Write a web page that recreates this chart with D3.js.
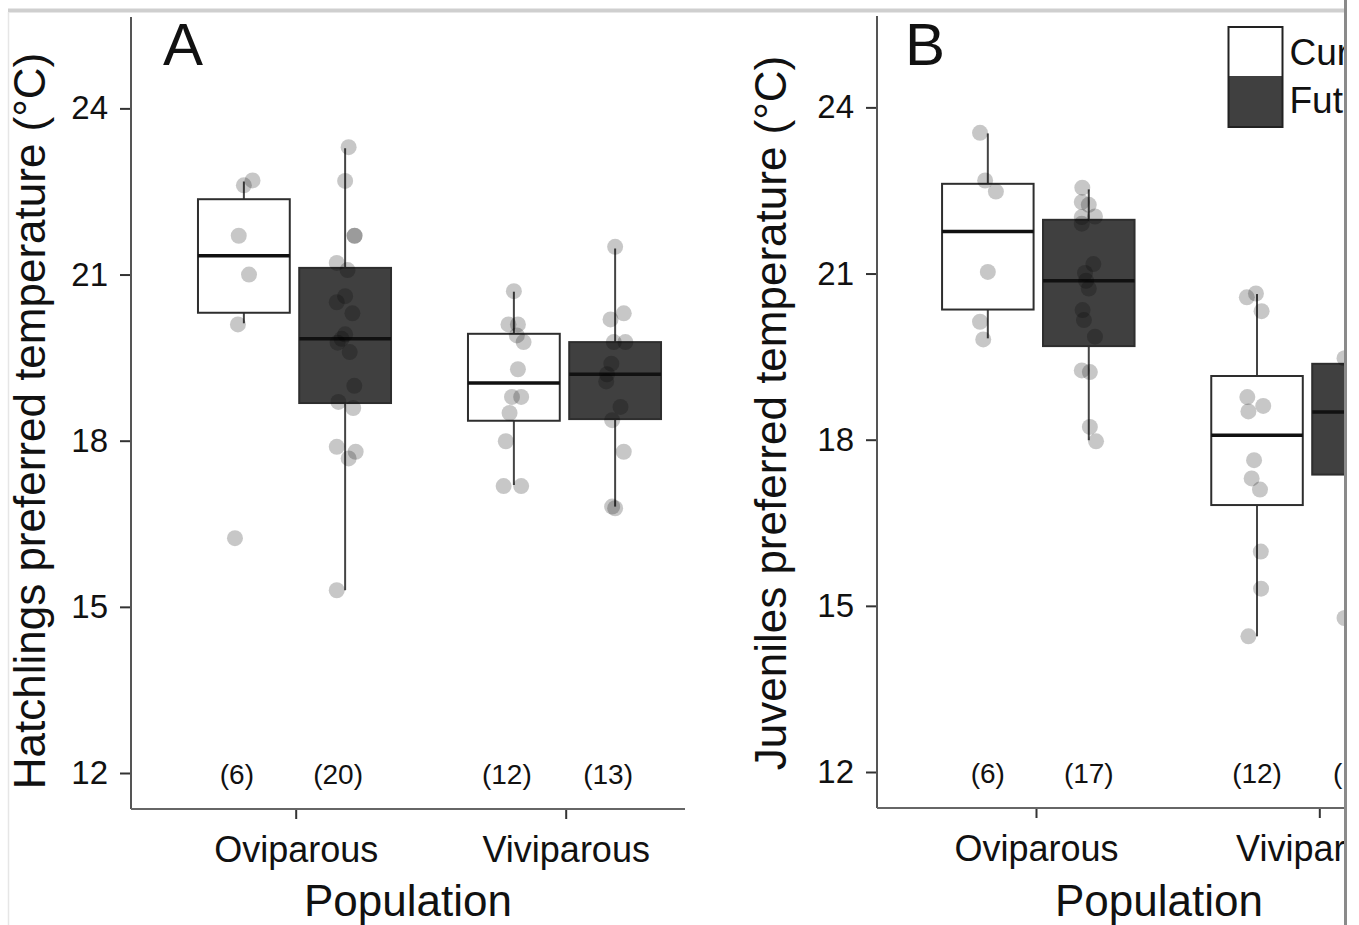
<!DOCTYPE html>
<html>
<head>
<meta charset="utf-8">
<script src="https://cdn.jsdelivr.net/npm/d3@7"></script>
<style>
body { margin: 0; background: #fff; }
text { font-family: "Liberation Sans", Arial, sans-serif; fill: #111; }
</style>
</head>
<body>
<div id="chart"></div>
<script>
const populations = ['Oviparous', 'Viviparous'];
const treatments = ['Current', 'Future'];
const yTicks = [12, 15, 18, 21, 24];

// box stats: [lower whisker, q1, median, q3, upper whisker]
const hatchOviCurrentBox = [20.12, 20.31, 21.34, 22.36, 22.68];
const hatchOviFutureBox = [15.30, 18.68, 19.84, 21.12, 23.28];
const hatchViviCurrentBox = [17.20, 18.36, 19.04, 19.93, 20.69];
const hatchViviFutureBox = [16.81, 18.39, 19.20, 19.78, 21.47];

const juvOviCurrentBox = [19.83, 20.35, 21.76, 22.62, 23.53];
const juvOviFutureBox = [17.99, 19.69, 20.87, 21.97, 22.52];
const juvViviCurrentBox = [14.45, 16.82, 18.08, 19.15, 20.63];
const juvViviFutureBox = [14.78, 17.37, 18.50, 19.37, 20.90];

// individual points: [temperature, jitter (fraction of category width)]
const hatchOviCurrent = [[22.61, 0], [22.70, 0.032], [21.70, -0.019], [21.00, 0.019], [20.10, -0.022], [16.24, -0.033]];
const hatchOviFuture = [[23.30, 0.013], [22.69, 0], [21.70, 0.035], [21.70, 0.035], [21.21, -0.031], [21.08, 0.009],
  [20.61, 0], [20.50, -0.031], [20.30, 0.027], [19.92, 0], [19.84, -0.013], [19.77, -0.028], [19.60, 0.017],
  [18.99, 0.034], [18.70, -0.025], [18.59, 0.03], [17.89, -0.031], [17.80, 0.039], [17.68, 0.013], [15.30, -0.031]];
const hatchViviCurrent = [[20.70, 0], [20.10, -0.02], [20.10, 0.015], [19.90, 0.011], [19.78, 0.036], [19.29, 0.015],
  [18.79, -0.007], [18.79, 0.027], [18.50, -0.016], [17.99, -0.03], [17.18, -0.038], [17.18, 0.027]];
const hatchViviFuture = [[21.50, 0], [20.19, -0.017], [20.30, 0.032], [19.78, -0.005], [19.78, 0.038], [19.39, -0.014],
  [19.20, -0.03], [19.07, -0.033], [18.61, 0.02], [18.37, -0.011], [17.80, 0.032], [16.81, -0.011], [16.78, 0]];

const juvOviCurrent = [[23.54, -0.029], [22.68, -0.01], [22.48, 0.03], [21.03, 0], [20.13, -0.029], [19.81, -0.017]];
const juvOviFuture = [[22.55, -0.024], [22.29, -0.026], [22.24, 0], [22.02, -0.026], [22.03, 0.023], [21.90, -0.026],
  [21.17, 0.017], [21.01, -0.014], [20.87, -0.01], [20.73, 0], [20.34, -0.023], [20.16, -0.018], [19.86, 0.023],
  [19.25, -0.026], [19.22, 0.004], [18.23, 0.004], [17.97, 0.027]];
const juvViviCurrent = [[20.57, -0.038], [20.64, -0.004], [20.32, 0.017], [18.77, -0.036], [18.61, 0.023], [18.51, -0.032],
  [17.63, -0.011], [17.30, -0.02], [17.10, 0.011], [15.98, 0.014], [15.31, 0.015], [14.45, -0.032]];
const juvViviFuture = [[19.47, -0.05], [19.10, 0.02], [18.90, 0.03], [18.50, 0.01], [18.20, 0.025], [17.90, 0.02],
  [17.50, 0.03], [17.30, 0.01], [16.60, 0.02], [15.90, 0.03], [14.78, -0.05], [20.90, 0.01]];

const hatchCounts = ['(6)', '(20)', '(12)', '(13)'];
const juvCounts = ['(6)', '(17)', '(12)', '(12)'];

const W = 1359, H = 925;
const svg = d3.select('#chart').append('svg')
  .attr('width', W)
  .attr('height', H);

svg.append('defs').append('clipPath')
  .attr('id', 'crop')
  .append('rect')
  .attr('x', 0).attr('y', 0)
  .attr('width', 1344).attr('height', H);

const root = svg.append('g').attr('clip-path', 'url(#crop)');

const panels = [
  { letter: 'A', title: 'Hatchlings preferred temperature (°C)',
    left: 131, right: 685, top: 17, bottom: 809,
    boxRange: [294.5, 564.5], tickRange: [295.7, 565.7], countShift: -7,
    titleX: 45, titleY: 421, letterX: 163,
    boxes: [hatchOviCurrentBox, hatchOviFutureBox, hatchViviCurrentBox, hatchViviFutureBox],
    points: [hatchOviCurrent, hatchOviFuture, hatchViviCurrent, hatchViviFuture],
    counts: hatchCounts },
  { letter: 'B', title: 'Juveniles preferred temperature (°C)',
    left: 877, right: 1441, top: 16, bottom: 808,
    boxRange: [1038.3, 1307.5], tickRange: [1036, 1319.3], countShift: 0,
    titleX: 786, titleY: 413, letterX: 905,
    boxes: [juvOviCurrentBox, juvOviFutureBox, juvViviCurrentBox, juvViviFutureBox],
    points: [juvOviCurrent, juvOviFuture, juvViviCurrent, juvViviFuture],
    counts: juvCounts }
];

const fills = { Current: '#ffffff', Future: '#404040' };

panels.forEach(p => {
  const g = root.append('g');

  const y = d3.scaleLinear()
    .domain([11.35, 25.65])
    .range([p.bottom, p.top]);

  const xBox = d3.scaleLinear().domain([0, 1]).range(p.boxRange);
  const xTick = d3.scaleLinear().domain([0, 1]).range(p.tickRange);
  const unit = xBox(1) - xBox(0);
  const dodge = 0.1875 * unit;
  const halfW = 0.17 * unit;

  // groups in order: pop x treatment
  const groups = [];
  populations.forEach((pop, i) => {
    treatments.forEach((tr, j) => {
      const k = i * 2 + j;
      groups.push({
        pop, tr,
        cx: xBox(i) + (j === 0 ? -dodge : dodge),
        stats: p.boxes[k],
        pts: p.points[k],
        n: p.counts[k]
      });
    });
  });

  // whiskers
  g.selectAll('.whisker-top')
    .data(groups).enter().append('line')
    .attr('x1', d => d.cx).attr('x2', d => d.cx)
    .attr('y1', d => y(d.stats[3])).attr('y2', d => y(d.stats[4]))
    .attr('stroke', '#444').attr('stroke-width', 2);
  g.selectAll('.whisker-bot')
    .data(groups).enter().append('line')
    .attr('x1', d => d.cx).attr('x2', d => d.cx)
    .attr('y1', d => y(d.stats[1])).attr('y2', d => y(d.stats[0]))
    .attr('stroke', '#444').attr('stroke-width', 2);

  // boxes
  g.selectAll('.box')
    .data(groups).enter().append('rect')
    .attr('x', d => d.cx - halfW)
    .attr('width', 2 * halfW)
    .attr('y', d => y(d.stats[3]))
    .attr('height', d => y(d.stats[1]) - y(d.stats[3]))
    .attr('fill', d => fills[d.tr])
    .attr('stroke', '#2e2e2e')
    .attr('stroke-width', 2);

  // medians
  g.selectAll('.median')
    .data(groups).enter().append('line')
    .attr('x1', d => d.cx - halfW).attr('x2', d => d.cx + halfW)
    .attr('y1', d => y(d.stats[2])).attr('y2', d => y(d.stats[2]))
    .attr('stroke', '#111').attr('stroke-width', 3.5);

  // jittered points
  groups.forEach(gr => {
    g.selectAll(null)
      .data(gr.pts).enter().append('circle')
      .attr('cx', d => gr.cx + d[1] * unit)
      .attr('cy', d => y(d[0]))
      .attr('r', 8)
      .attr('fill', '#000')
      .attr('fill-opacity', 0.22);
  });

  // sample sizes
  g.selectAll('.count')
    .data(groups).enter().append('text')
    .attr('x', d => d.cx + p.countShift)
    .attr('y', y(12) + 11)
    .attr('text-anchor', 'middle')
    .style('font-size', '28px')
    .text(d => d.n);

  // y axis
  const yAxis = d3.axisLeft(y)
    .tickValues(yTicks)
    .tickSize(11)
    .tickPadding(12);
  const yg = g.append('g')
    .attr('transform', `translate(${p.left},0)`)
    .call(yAxis);
  yg.select('.domain').remove();
  yg.selectAll('.tick line').attr('stroke', '#333').attr('stroke-width', 2);
  yg.selectAll('.tick text').style('font-size', '33px').attr('fill', '#111');

  // x axis
  const xAxis = d3.axisBottom(xTick)
    .tickValues([0, 1])
    .tickFormat(i => populations[i])
    .tickSize(10)
    .tickPadding(17);
  const xg = g.append('g')
    .attr('transform', `translate(0,${p.bottom})`)
    .call(xAxis);
  xg.select('.domain').remove();
  xg.selectAll('.tick line').attr('stroke', '#333').attr('stroke-width', 2);
  xg.selectAll('.tick text').style('font-size', '36px').attr('fill', '#111');

  // axis lines
  g.append('line')
    .attr('x1', p.left).attr('x2', p.left)
    .attr('y1', p.top).attr('y2', p.bottom)
    .attr('stroke', '#555').attr('stroke-width', 2);
  g.append('line')
    .attr('x1', p.left).attr('x2', p.right)
    .attr('y1', p.bottom).attr('y2', p.bottom)
    .attr('stroke', '#666').attr('stroke-width', 2);

  // titles
  g.append('text')
    .attr('transform', `translate(${p.titleX},${p.titleY}) rotate(-90)`)
    .attr('text-anchor', 'middle')
    .style('font-size', '44px')
    .text(p.title);
  g.append('text')
    .attr('x', (p.left + p.right) / 2)
    .attr('y', 916)
    .attr('text-anchor', 'middle')
    .style('font-size', '44px')
    .text('Population');
  g.append('text')
    .attr('x', p.letterX)
    .attr('y', 65)
    .style('font-size', '60px')
    .text(p.letter);
});

// legend
const legend = root.append('g').attr('transform', 'translate(1228.5,27)');
legend.selectAll('rect.key')
  .data(treatments).enter().append('rect')
  .attr('x', 0)
  .attr('y', (d, i) => i * 49)
  .attr('width', 54)
  .attr('height', (d, i) => i === 0 ? 49 : 51)
  .attr('fill', d => fills[d]);
legend.append('rect')
  .attr('width', 54).attr('height', 100)
  .attr('fill', 'none')
  .attr('stroke', '#222').attr('stroke-width', 2);
legend.selectAll('text')
  .data(treatments).enter().append('text')
  .attr('x', 61)
  .attr('y', (d, i) => 38 + i * 48)
  .style('font-size', '37px')
  .text(d => d);

// frame of the cropped screenshot
svg.append('line')
  .attr('x1', 8).attr('x2', 1344)
  .attr('y1', 10.5).attr('y2', 10.5)
  .attr('stroke', '#cfcfcf').attr('stroke-width', 4);
svg.append('line')
  .attr('x1', 8.5).attr('x2', 8.5)
  .attr('y1', 12).attr('y2', H)
  .attr('stroke', '#e6e6e6').attr('stroke-width', 1.5);
svg.append('line')
  .attr('x1', 1345.5).attr('x2', 1345.5)
  .attr('y1', 0).attr('y2', H)
  .attr('stroke', '#8a8a8a').attr('stroke-width', 3);
</script>
</body>
</html>
